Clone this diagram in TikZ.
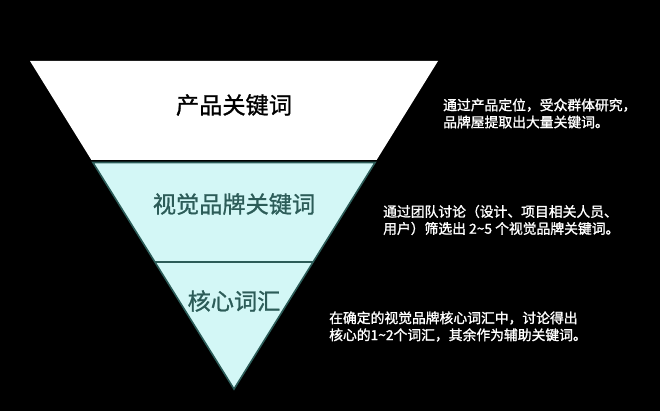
\documentclass[tikz,border=0pt]{standalone}
\usepackage{fontspec}
\setmainfont{Noto Sans CJK SC}
\newfontfamily\notefont[FakeBold=1.4]{Noto Sans CJK SC}
\newfontfamily\labelfont[FakeBold=1.0]{Noto Sans CJK SC}
\definecolor{cyanfill}{HTML}{D3F7F6}
\definecolor{tealline}{HTML}{2C5C58}
\begin{document}
\begin{tikzpicture}[x=1pt,y=-1pt,
  label/.style={font=\labelfont\fontsize{23.2}{27}\selectfont, inner sep=0pt},
  note/.style={font=\notefont\fontsize{13.8}{17}\selectfont, text=white, align=left, anchor=west, inner sep=0pt}]
\fill[black] (0,0) rectangle (660,411);
\useasboundingbox (0,0) rectangle (660,411);
% geometry
\coordinate (tl) at (30,61);
\coordinate (tr) at (438,61);
\coordinate (wl) at (91.4,160);
\coordinate (wr) at (376.6,160);
\coordinate (cl) at (92.9,162.5);
\coordinate (cr) at (375.1,162.5);
\coordinate (ml) at (154.6,262);
\coordinate (mr) at (313.4,262);
\coordinate (apex) at (234,389);
% top band
\fill[white] (tl) -- (tr) -- (wr) -- (wl) -- cycle;
% lower triangle
\filldraw[fill=cyanfill, draw=tealline, line width=1.6pt, line join=miter] (cl) -- (cr) -- (apex) -- cycle;
\draw[tealline, line width=2pt] (ml) -- (mr);
% labels
\node[label, text=black] (p1) at (234,105) {产品关键词};
\node[label, text=tealline] (p2) at (234,204) {视觉品牌关键词};
\node[label, text=tealline] (p3) at (234,301) {核心词汇};
% notes
\node[note] (n1) at (443,113.5) {通过产品定位，受众群体研究，\\品牌屋提取出大量关键词。};
\node[note] (n2) at (383,220) {通过团队讨论（设计、项目相关人员、\\用户）筛选出 2\string~5 个视觉品牌关键词。};
\node[note] (n3) at (329,326.5) {在确定的视觉品牌核心词汇中，讨论得出\\核心的1\string~2个词汇，其余作为辅助关键词。};
\end{tikzpicture}
\end{document}
